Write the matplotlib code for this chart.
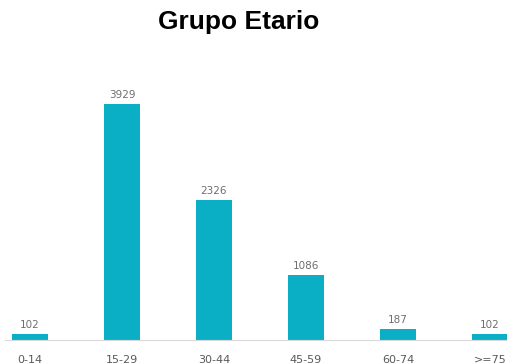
import matplotlib
matplotlib.use("Agg")
import matplotlib.pyplot as plt

categories = ["0-14", "15-29", "30-44", "45-59", "60-74", ">=75"]
values = [102, 3929, 2326, 1086, 187, 102]

W, H = 507, 364
fig = plt.figure(figsize=(W/100, H/100), dpi=100)
ax = fig.add_axes([0, 24/H, 1, (340-60)/H])
x = list(range(len(categories)))
ax.bar(x, values, width=0.39, color="#0BAFC5", zorder=2)
ax.set_xlim(-30/92, (507-30)/92)
ax.set_ylim(0, 3929*280/236)
for xi, v in zip(x, values):
    ax.annotate(str(v), (xi, v), xytext=(0, 3), textcoords="offset points",
                ha="center", va="bottom", fontsize=7.5, color="#6E6E6E",
                family="DejaVu Sans")
ax.set_xticks(x)
ax.set_xticklabels(categories, fontsize=8, color="#595959", family="DejaVu Sans")
ax.tick_params(axis="x", length=0, pad=11)
ax.set_yticks([])
for s in ["top", "right", "left"]:
    ax.spines[s].set_visible(False)
ax.spines["bottom"].set_color("#D9D9D9")
ax.spines["bottom"].set_linewidth(0.8)
ax.spines["bottom"].set_bounds(-25/92, 10)
fig.text(239/W, 1-22/H, "Grupo Etario", ha="center", va="center",
         fontsize=19, fontweight="bold", family="Liberation Sans")
fig.savefig("out.png", dpi=100)
